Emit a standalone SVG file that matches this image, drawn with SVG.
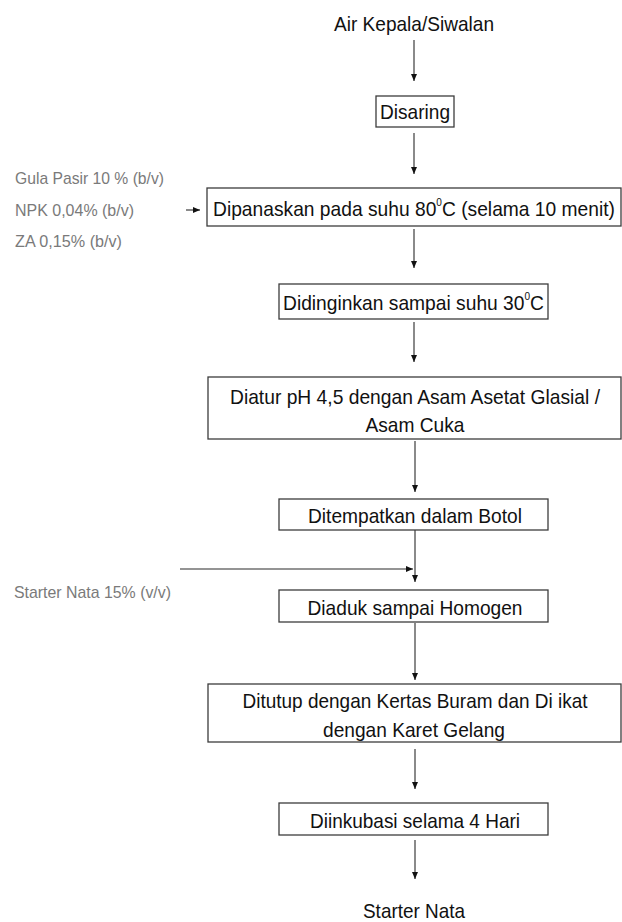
<svg xmlns="http://www.w3.org/2000/svg" width="622" height="922" viewBox="0 0 622 922">
<defs>
<style>
.bx{fill:#fff;stroke:#3c3c3c;stroke-width:1.3}
.t{font-family:"Liberation Sans",Arial,sans-serif;font-size:21px;fill:#111}
.tc{text-anchor:middle}
.sup{font-size:11px}
.side{font-family:"Liberation Sans",Arial,sans-serif;font-size:17px;fill:#7a7a7a}
.ln{stroke:#2a2a2a;stroke-width:1.1;fill:none}
</style>
<marker id="ah" markerUnits="userSpaceOnUse" markerWidth="7" markerHeight="6" refX="7" refY="3" orient="auto">
<path d="M0,0 L7,3 L0,6 z" fill="#111"/>
</marker>
</defs>
<rect width="622" height="922" fill="#fff"/>

<g id="connectors">
<line class="ln" x1="414" y1="40" x2="414" y2="81" marker-end="url(#ah)"/>
<line class="ln" x1="414" y1="133" x2="414" y2="174" marker-end="url(#ah)"/>
<line class="ln" x1="414" y1="229" x2="414" y2="268" marker-end="url(#ah)"/>
<line class="ln" x1="414" y1="322" x2="414" y2="362" marker-end="url(#ah)"/>
<line class="ln" x1="415" y1="441" x2="415" y2="492" marker-end="url(#ah)"/>
<line class="ln" x1="415" y1="530" x2="415" y2="582" marker-end="url(#ah)"/>
<line class="ln" x1="180" y1="569" x2="413" y2="569" marker-end="url(#ah)"/>
<line class="ln" x1="415" y1="623" x2="415" y2="680" marker-end="url(#ah)"/>
<line class="ln" x1="415" y1="749" x2="415" y2="789" marker-end="url(#ah)"/>
<line class="ln" x1="415" y1="840" x2="415" y2="879" marker-end="url(#ah)"/>
<line class="ln" x1="186" y1="210" x2="200" y2="210" marker-end="url(#ah)"/>
</g>

<g id="n-air">
<text class="t tc" x="414" y="31" textLength="160" lengthAdjust="spacingAndGlyphs">Air Kepala/Siwalan</text>
</g>
<g id="n-disaring">
<rect class="bx" x="376" y="96" width="78" height="31"/>
<text class="t tc" x="415" y="119" textLength="70" lengthAdjust="spacingAndGlyphs">Disaring</text>
</g>
<g id="n-bahan">
<text class="side" x="15" y="184" textLength="149" lengthAdjust="spacingAndGlyphs">Gula Pasir 10 % (b/v)</text>
<text class="side" x="15" y="216" textLength="119" lengthAdjust="spacingAndGlyphs">NPK 0,04% (b/v)</text>
<text class="side" x="15" y="247" textLength="107" lengthAdjust="spacingAndGlyphs">ZA 0,15% (b/v)</text>
</g>
<g id="n-dipanaskan">
<rect class="bx" x="207" y="188" width="414" height="38"/>
<text class="t" x="213" y="216" textLength="402" lengthAdjust="spacingAndGlyphs">Dipanaskan pada suhu 80<tspan class="sup" dy="-10">0</tspan><tspan dy="10">C (selama 10 menit)</tspan></text>
</g>
<g id="n-didinginkan">
<rect class="bx" x="279" y="284" width="269" height="35"/>
<text class="t" x="283" y="310" textLength="261" lengthAdjust="spacingAndGlyphs">Didinginkan sampai suhu 30<tspan class="sup" dy="-10">0</tspan><tspan dy="10">C</tspan></text>
</g>
<g id="n-diatur">
<rect class="bx" x="208" y="377" width="413" height="62"/>
<text class="t tc" x="415" y="404" textLength="370" lengthAdjust="spacingAndGlyphs">Diatur pH 4,5 dengan Asam Asetat Glasial /</text>
<text class="t tc" x="415" y="432" textLength="99" lengthAdjust="spacingAndGlyphs">Asam Cuka</text>
</g>
<g id="n-ditempatkan">
<rect class="bx" x="279" y="499" width="269" height="31"/>
<text class="t tc" x="415" y="523" textLength="214" lengthAdjust="spacingAndGlyphs">Ditempatkan dalam Botol</text>
</g>
<g id="n-starter-in">
<text class="side" x="14" y="598" textLength="157" lengthAdjust="spacingAndGlyphs">Starter Nata 15% (v/v)</text>
</g>
<g id="n-diaduk">
<rect class="bx" x="279" y="590" width="269" height="32"/>
<text class="t tc" x="415" y="615" textLength="215" lengthAdjust="spacingAndGlyphs">Diaduk sampai Homogen</text>
</g>
<g id="n-ditutup">
<rect class="bx" x="208" y="684" width="413" height="58"/>
<text class="t tc" x="415" y="708" textLength="345" lengthAdjust="spacingAndGlyphs">Ditutup dengan Kertas Buram dan Di ikat</text>
<text class="t tc" x="414" y="737" textLength="182" lengthAdjust="spacingAndGlyphs">dengan Karet Gelang</text>
</g>
<g id="n-diinkubasi">
<rect class="bx" x="279" y="803" width="269" height="32"/>
<text class="t tc" x="415" y="828" textLength="210" lengthAdjust="spacingAndGlyphs">Diinkubasi selama 4 Hari</text>
</g>
<g id="n-starter-out">
<text class="t tc" x="414" y="918" textLength="102" lengthAdjust="spacingAndGlyphs">Starter Nata</text>
</g>
</svg>
